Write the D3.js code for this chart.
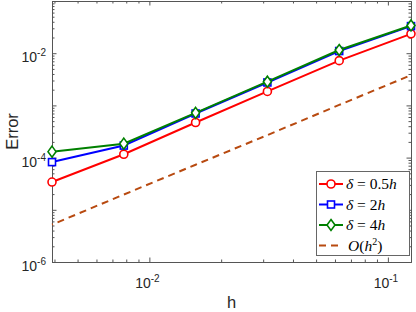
<!DOCTYPE html>
<html lang="en">
  <head>
    <meta charset="UTF-8">
    <title>Error vs h</title>
    <script src="https://d3js.org/d3.v7.min.js"></script>
    <style>
      body { margin: 0; background: #fff; }
      text { font-family: "Liberation Sans", Arial, sans-serif; fill: #262626; }
      .leg text { font-family: "Liberation Serif", "DejaVu Serif", serif; fill: #000; }
    </style>
  </head>
  <body>

<script>
  // data
  const h      = [1/256, 1/128, 1/64, 1/32, 1/16, 1/8];
  const err05  = [3.4e-5, 1.16e-4, 4.7e-4, 1.85e-3, 7.2e-3, 2.35e-2];
  const err2   = [8.2e-5, 1.7e-4, 7.0e-4, 2.75e-3, 1.1e-2, 3.3e-2];
  const err4   = [1.3e-4, 1.85e-4, 7.2e-4, 2.85e-3, 1.15e-2, 3.4e-2];
  const refH2  = [5.2e-6, 1.96e-5, 7.3e-5, 2.7e-4, 1.02e-3, 3.8e-3];

  const xMajor = [1e-2, 1e-1];
  const yMajor = [1e-6, 1e-5, 1e-4, 1e-3, 1e-2, 1e-1];
  const yLabels = [1e-6, 1e-4, 1e-2];

  const w = 416, h0 = 312;
  const mLeft = 52, mRight = 411, mTop = 1, mBottom = 262;

  const x = d3.scaleLog().domain([1/256, 1/8]).range([mLeft, mRight]);
  const y = d3.scaleLog().domain([1e-6, 1e-1]).range([mBottom, mTop]);

  const svg = d3.select("body").append("svg")
                .attr("width", w).attr("height", h0);

  // minor ticks
  const xMinor = [];
  [1e-3, 1e-2].forEach(d => { for (let k = 2; k <= 9; k++) { const v = d*k; if (v >= 1/256 && v <= 1/8) xMinor.push(v); } });
  const yMinor = [];
  [1e-6, 1e-5, 1e-4, 1e-3, 1e-2].forEach(d => { for (let k = 2; k <= 9; k++) yMinor.push(d*k); });

  const axisCol = "#555";
  function drawAxis(gen, tr, vals, size) {
    const g = svg.append("g").attr("transform", tr)
       .call(gen.tickValues(vals).tickSizeInner(size).tickSizeOuter(0).tickFormat(""));
    g.selectAll("line").attr("stroke", axisCol);
    g.select(".domain").attr("stroke", axisCol);
    return g;
  }
  drawAxis(d3.axisBottom(x), `translate(0,${mBottom})`, xMajor, -4.5);
  drawAxis(d3.axisBottom(x), `translate(0,${mBottom})`, xMinor, -2.5);
  drawAxis(d3.axisTop(x), `translate(0,${mTop})`, xMajor, -4.5);
  drawAxis(d3.axisTop(x), `translate(0,${mTop})`, xMinor, -2.5);
  drawAxis(d3.axisLeft(y), `translate(${mLeft},0)`, yMajor, -4.5);
  drawAxis(d3.axisLeft(y), `translate(${mLeft},0)`, yMinor, -2.5);
  drawAxis(d3.axisRight(y), `translate(${mRight},0)`, yMajor, -4.5);
  drawAxis(d3.axisRight(y), `translate(${mRight},0)`, yMinor, -2.5);

  // tick labels 10^n
  const xl = svg.selectAll(".xl").data(xMajor).enter().append("text")
     .attr("x", d => x(d) - 2).attr("y", 288).attr("text-anchor", "middle")
     .style("font-size", "14px");
  xl.append("tspan").text("10");
  xl.append("tspan").attr("dy", -6).style("font-size", "10px").text(d => Math.round(Math.log10(d)));

  const yl = svg.selectAll(".yl").data(yLabels).enter().append("text")
     .attr("x", 46).attr("y", d => y(d) + 9).attr("text-anchor", "end")
     .style("font-size", "14px");
  yl.append("tspan").text("10");
  yl.append("tspan").attr("dy", -6).style("font-size", "10px").text(d => Math.round(Math.log10(d)));

  svg.append("text").attr("x", (mLeft + mRight)/2).attr("y", 308)
     .attr("text-anchor", "middle").style("font-size", "16.5px").text("h");
  svg.append("text").attr("transform", `translate(18,${(mTop + mBottom)/2}) rotate(-90)`)
     .attr("text-anchor", "middle").style("font-size", "16.5px").text("Error");

  const line = d3.line().x(d => x(d[0])).y(d => y(d[1]));
  const zip = ys => h.map((v, i) => [v, ys[i]]);

  // reference slope
  svg.append("path").datum(zip(refH2)).attr("d", line)
     .attr("fill", "none").attr("stroke", "#b84a10").attr("stroke-width", 2)
     .attr("stroke-dasharray", "7,5").attr("stroke-dashoffset", -6);

  const series = [
    { vals: err05, col: "#ff0000", mk: "circle" },
    { vals: err2,  col: "#0000ff", mk: "square" },
    { vals: err4,  col: "#008000", mk: "diamond" }
  ];

  function marker(g, type, col) {
    if (type === "circle") g.append("circle").attr("r", 4);
    else if (type === "square") g.append("rect").attr("x", -3.5).attr("y", -3.5).attr("width", 7).attr("height", 7);
    else g.append("path").attr("d", "M0,-5.5L4,0L0,5.5L-4,0Z");
    g.selectAll("*").attr("fill", "#fff").attr("stroke", col).attr("stroke-width", 1.6);
  }

  series.forEach(s => {
    svg.append("path").datum(zip(s.vals)).attr("d", line)
       .attr("fill", "none").attr("stroke", s.col).attr("stroke-width", 2);
    svg.selectAll(null).data(zip(s.vals)).enter().append("g")
       .attr("transform", d => `translate(${x(d[0])},${y(d[1])})`)
       .each(function() { marker(d3.select(this), s.mk, s.col); });
  });

  // legend
  const leg = svg.append("g").attr("class", "leg");
  leg.append("rect").attr("x", 316.5).attr("y", 171.5).attr("width", 93).attr("height", 84)
     .attr("fill", "#fff").attr("stroke", "#666").attr("stroke-width", 1);

  const legItems = [
    { col: "#ff0000", mk: "circle", mid: "0.5" },
    { col: "#0000ff", mk: "square", mid: "2" },
    { col: "#008000", mk: "diamond", mid: "4" }
  ];
  legItems.forEach((d, i) => {
    const cy = 184 + i * 20.5;
    leg.append("line").attr("x1", 319).attr("x2", 343).attr("y1", cy).attr("y2", cy)
       .attr("stroke", d.col).attr("stroke-width", 2);
    const g = leg.append("g").attr("transform", `translate(331,${cy})`);
    marker(g, d.mk, d.col);
    const t = leg.append("text").attr("x", 346).attr("y", cy + 5).style("font-size", "15.5px");
    t.append("tspan").style("font-style", "italic").text("δ");
    t.append("tspan").text(" = " + d.mid);
    t.append("tspan").style("font-style", "italic").text("h");
  });
  const cy4 = 184 + 3 * 20.5;
  leg.append("line").attr("x1", 319).attr("x2", 343).attr("y1", cy4).attr("y2", cy4)
     .attr("stroke", "#b84a10").attr("stroke-width", 2).attr("stroke-dasharray", "7,5");
  const t4 = leg.append("text").attr("x", 348).attr("y", cy4 + 5).style("font-size", "15.5px");
  t4.append("tspan").style("font-style", "italic").text("O");
  t4.append("tspan").text("(");
  t4.append("tspan").style("font-style", "italic").text("h");
  t4.append("tspan").attr("dy", -6).style("font-size", "10px").text("2");
  t4.append("tspan").attr("dy", 6).text(")");
</script>

  </body>
</html>
